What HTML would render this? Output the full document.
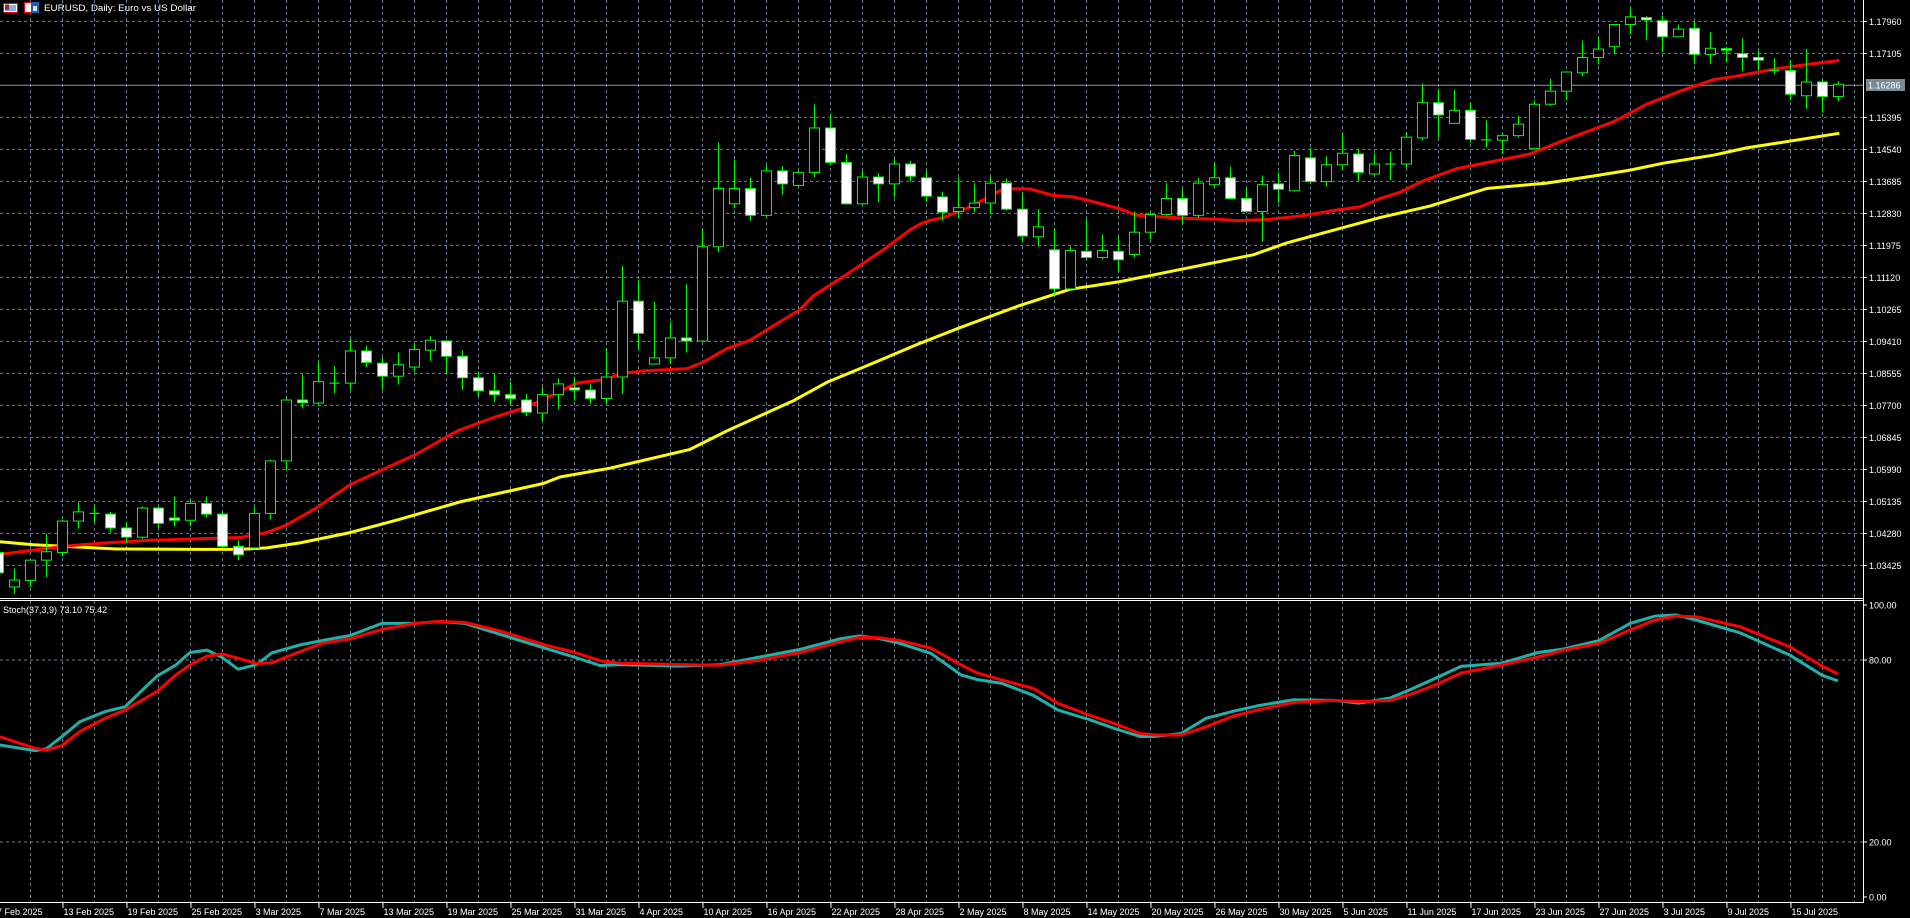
<!DOCTYPE html>
<html><head><meta charset="utf-8"><style>
html,body{margin:0;padding:0;background:#000;overflow:hidden}
svg{display:block}
text{font-family:"Liberation Sans",sans-serif;font-size:9px;fill:#fff}
</style></head><body>
<svg id="s" width="1910" height="918" viewBox="0 0 1910 918" xmlns="http://www.w3.org/2000/svg">
<rect width="1910" height="918" fill="#000"/>
<g id="grid"></g>
<line x1="0" y1="85.2" x2="1863" y2="85.2" stroke="#8a98a8" stroke-width="1"/>
<g id="ma"></g>
<g id="candles"></g>
<g id="stoch"></g>
<line x1="0" y1="598.5" x2="1863" y2="598.5" stroke="#fff" stroke-width="1"/>
<line x1="0" y1="600.5" x2="1863" y2="600.5" stroke="#fff" stroke-width="1"/>
<line x1="1863.5" y1="0" x2="1863.5" y2="903" stroke="#fff" stroke-width="1"/>
<line x1="0" y1="902.5" x2="1864" y2="902.5" stroke="#fff" stroke-width="1"/>
<g id="ticks" stroke="#fff" stroke-width="1"></g>
<rect x="3.5" y="3.5" width="14" height="9" fill="#fff" stroke="#e00" stroke-width="1"/>
<line x1="5" y1="6" x2="16" y2="6" stroke="#1a5fb4"/><line x1="5" y1="8" x2="16" y2="8" stroke="#1a5fb4"/><line x1="5" y1="10" x2="16" y2="10" stroke="#1a5fb4"/>
<line x1="5" y1="5" x2="9" y2="5" stroke="#e00"/><line x1="5" y1="7" x2="9" y2="7" stroke="#e00"/><line x1="5" y1="9" x2="9" y2="9" stroke="#e00"/>
<rect x="24.5" y="2.5" width="14" height="10" fill="#fff" stroke="#e00"/>
<rect x="31" y="2" width="8" height="11" fill="#1a5fb4"/>
<rect x="33" y="6" width="4" height="5" fill="#ddd"/>
<text x="44" y="11" textLength="152" lengthAdjust="spacingAndGlyphs">EURUSD, Daily:  Euro vs US Dollar</text>
<g>
<text x="1869" y="24.8">1.17960</text>
<text x="1869" y="56.8">1.17105</text>
<text x="1869" y="120.8">1.15395</text>
<text x="1869" y="152.8">1.14540</text>
<text x="1869" y="184.8">1.13685</text>
<text x="1869" y="216.8">1.12830</text>
<text x="1869" y="248.8">1.11975</text>
<text x="1869" y="280.8">1.11120</text>
<text x="1869" y="312.8">1.10265</text>
<text x="1869" y="344.8">1.09410</text>
<text x="1869" y="376.8">1.08555</text>
<text x="1869" y="408.8">1.07700</text>
<text x="1869" y="440.8">1.06845</text>
<text x="1869" y="472.8">1.05990</text>
<text x="1869" y="504.8">1.05135</text>
<text x="1869" y="536.8">1.04280</text>
<text x="1869" y="568.8">1.03425</text>
</g>
<rect x="1866" y="79" width="39" height="12" fill="#7a8898"/>
<text x="1868" y="88.5" fill="#fff">1.16286</text>
<text x="3" y="613">Stoch(37,3,9) 73.10 75.42</text>
<text x="1869" y="608.5">100.00</text>
<text x="1869" y="663.5">80.00</text>
<text x="1869" y="845.5">20.00</text>
<text x="1869" y="900.5">0.00</text>
<g>
<text x="-3" y="915">7 Feb 2025</text>
<text x="63.5" y="915">13 Feb 2025</text>
<text x="127.5" y="915">19 Feb 2025</text>
<text x="191.5" y="915">25 Feb 2025</text>
<text x="255.5" y="915">3 Mar 2025</text>
<text x="319.5" y="915">7 Mar 2025</text>
<text x="383.5" y="915">13 Mar 2025</text>
<text x="447.5" y="915">19 Mar 2025</text>
<text x="511.5" y="915">25 Mar 2025</text>
<text x="575.5" y="915">31 Mar 2025</text>
<text x="639.5" y="915">4 Apr 2025</text>
<text x="703.5" y="915">10 Apr 2025</text>
<text x="767.5" y="915">16 Apr 2025</text>
<text x="831.5" y="915">22 Apr 2025</text>
<text x="895.5" y="915">28 Apr 2025</text>
<text x="959.5" y="915">2 May 2025</text>
<text x="1023.5" y="915">8 May 2025</text>
<text x="1087.5" y="915">14 May 2025</text>
<text x="1151.5" y="915">20 May 2025</text>
<text x="1215.5" y="915">26 May 2025</text>
<text x="1279.5" y="915">30 May 2025</text>
<text x="1343.5" y="915">5 Jun 2025</text>
<text x="1407.5" y="915">11 Jun 2025</text>
<text x="1471.5" y="915">17 Jun 2025</text>
<text x="1535.5" y="915">23 Jun 2025</text>
<text x="1599.5" y="915">27 Jun 2025</text>
<text x="1663.5" y="915">3 Jul 2025</text>
<text x="1727.5" y="915">9 Jul 2025</text>
<text x="1791.5" y="915">15 Jul 2025</text>
</g>
</svg>
<script>
var NS="http://www.w3.org/2000/svg";
function el(p,t,a){var e=document.createElementNS(NS,t);for(var k in a)e.setAttribute(k,a[k]);p.appendChild(e);return e;}
var G=document.getElementById('grid');
var gc="#6f7f90";
for(var k=0;k<18;k++){if(k==2)continue;var y=21.4+32*k;el(G,'line',{x1:0,y1:y,x2:1863,y2:y,stroke:gc,'stroke-width':1,'stroke-dasharray':'3,3'});}
[660,842].forEach(function(y){el(G,'line',{x1:0,y1:y,x2:1863,y2:y,stroke:gc,'stroke-width':1,'stroke-dasharray':'3,3'});});
for(var k=0;k<58;k++){var x=30.5+32*k;el(G,'line',{x1:x,y1:0,x2:x,y2:598,stroke:gc,'stroke-width':1,'stroke-dasharray':'3,3'});el(G,'line',{x1:x,y1:601,x2:x,y2:902,stroke:gc,'stroke-width':1,'stroke-dasharray':'3,3'});}
var T=document.getElementById('ticks');
for(var k=0;k<29;k++){var x=-1.5+64*k+0.5;el(T,'line',{x1:x,y1:903,x2:x,y2:908});}
[21.4,53.4,117.4,149.4,181.4,213.4,245.4,277.4,309.4,341.4,373.4,405.4,437.4,469.4,501.4,533.4,565.4,605,660,842,897].forEach(function(y){el(T,'line',{x1:1863,y1:y,x2:1867,y2:y});});
function conv(segs){var pts=[];segs.forEach(function(s){var off=s[0];s[1].forEach(function(p){pts.push([p[0]/3+off,p[1]/2.61]);});});pts.sort(function(a,b){return a[0]-b[0];});return pts;}
var red=conv([[0,[[0,1447],[200,1425],[300,1418],[450,1410],[600,1406],[720,1403],[800,1390],[860,1370],[950,1325],[1050,1265],[1150,1225],[1250,1185],[1350,1135]]],
[460,[[0,1122],[100,1090],[200,1062],[280,1030],[350,1000],[440,990],[480,975],[550,968],[680,962],[730,945],[800,910],[870,888],[950,845],[1020,808],[1060,772],[1150,722],[1270,652],[1350,600]]],
[920,[[0,585],[30,575],[70,568],[150,540],[250,493],[330,493],[400,510],[460,514],[500,522],[600,545],[650,562],[800,570],[900,572],[950,576],[1050,572],[1150,563],[1250,548],[1320,540]]],
[1380,[[0,518],[60,502],[130,472],[230,440],[300,428],[450,402],[540,370],[700,318],[800,272],[900,238],[1000,208],[1060,200],[1200,178],[1300,166],[1378,158]]]]);
var yel=conv([[0,[[0,1414],[100,1422],[350,1433],[600,1434],[720,1434],[800,1430],[900,1417],[1050,1390],[1200,1355]]],
[460,[[0,1310],[250,1262],[300,1245],[450,1222],[690,1173],[800,1125],[1000,1046],[1100,998],[1200,962]]],
[920,[[0,896],[120,855],[300,797],[450,755],[600,735],[800,700],[1000,665],[1100,634]]],
[1380,[[0,568],[150,538],[320,492],[500,478],[650,458],[750,444],[850,426],[1000,405],[1100,386],[1378,348]]]]);
var M=document.getElementById('ma');
function pl(g,pts,c,w){el(g,'polyline',{points:pts.map(function(p){return p[0].toFixed(1)+','+p[1].toFixed(1);}).join(' '),fill:'none',stroke:c,'stroke-width':w,'stroke-linejoin':'round'});}
pl(M,yel,'#ffff00',3);
pl(M,red,'#ff0000',3);
var C=[[1430,1442,1495,1500,'w'],[1484,1514,1532,1550,'b'],[1462,1462,1515,1532,'b'],[1394,1440,1462,1506,'b'],[1356,1360,1442,1452,'b'],[1312,1336,1360,1380,'b'],[1318,1340,1340,1362,'b'],[1336,1342,1378,1390,'w'],[1362,1378,1402,1418,'w'],[1322,1326,1402,1406,'b'],
[1320,1326,1366,1378,'w'],[1296,1352,1358,1374,'w'],[1306,1314,1358,1374,'b'],[1296,1314,1342,1350,'w'],[1334,1342,1426,1430,'w'],[1410,1426,1448,1462,'w'],[1324,1340,1430,1432,'b'],[1200,1203,1340,1356,'b'],[1036,1044,1203,1228,'b'],[978,1044,1051,1066,'w'],
[944,996,1052,1060,'b'],[956,1000,1000,1026,'b'],[884,916,1000,1016,'b'],[902,916,946,958,'w'],[932,948,982,1016,'w'],[920,952,982,1004,'b'],[898,912,958,970,'b'],[878,888,914,942,'b'],[888,890,930,976,'w'],[914,930,986,1018,'w'],
[970,986,1020,1034,'w'],[976,1020,1030,1050,'w'],[996,1030,1040,1056,'w'],[1028,1044,1076,1086,'w'],[1010,1030,1078,1098,'b'],[988,1002,1030,1068,'b'],[984,1012,1018,1046,'w'],[1002,1018,1040,1054,'w'],[910,984,1040,1052,'b'],[694,786,984,1028,'b'],
[730,786,870,910,'w'],[788,934,950,952,'b'],[840,882,934,950,'b'],[742,882,890,920,'w'],[598,644,890,892,'b'],[372,492,644,658,'b'],[416,492,532,544,'b'],[464,492,562,576,'w'],[432,446,562,566,'b'],[434,446,480,508,'w'],
[446,450,484,488,'b'],[272,334,450,462,'b'],[298,334,424,430,'w'],[402,424,532,534,'w'],[446,462,532,534,'b'],[452,462,480,528,'w'],[414,428,480,514,'b'],[420,428,460,474,'w'],[446,464,512,528,'w'],[500,514,554,576,'w'],
[464,542,552,570,'b'],[478,530,542,554,'b'],[462,478,530,560,'b'],[466,478,546,550,'w'],[504,546,616,630,'w'],[546,592,618,644,'b'],[596,652,754,770,'w'],[644,654,754,756,'b'],[572,656,672,678,'w'],[612,654,672,678,'b'],
[618,656,678,708,'w'],[552,606,664,672,'b'],[554,560,606,624,'b'],[478,518,560,562,'b'],[494,518,562,586,'w'],[464,478,562,568,'b'],[424,464,482,486,'b'],[436,464,518,520,'w'],[492,518,552,556,'w'],[458,482,552,630,'b'],
[450,480,494,530,'w'],[394,406,498,500,'b'],[386,412,474,480,'w'],[408,430,474,486,'b'],[350,400,430,442,'b'],[388,402,450,472,'w'],[402,428,454,456,'b'],[396,428,428,470,'b'],[346,358,428,438,'b'],[218,268,360,366,'b'],
[232,268,300,358,'w'],[234,288,322,324,'b'],[268,288,364,372,'w'],[314,365,365,384,'b'],[346,354,366,402,'b'],[302,324,354,358,'b'],[262,272,388,390,'b'],[206,238,272,276,'b'],[186,188,238,262,'b'],[106,150,190,198,'b'],
[98,128,150,168,'b'],[64,64,122,142,'b'],[22,44,64,90,'b'],[42,46,52,104,'w'],[40,54,96,136,'w'],[64,76,96,98,'b'],[56,74,142,168,'w'],[84,126,142,166,'b'],[122,127,131,162,'w'],[100,140,150,186,'w'],
[132,150,157,184,'w'],[152,184,184,194,'b'],[158,184,246,262,'w'],[128,214,250,284,'b'],[206,214,252,294,'w'],[212,220,252,264,'b']];
var CG=document.getElementById('candles');
var gr='#00ff00';
C.forEach(function(c,i){var cx=Math.round(-1.7+16*i)+0.5;var f=2.61;
var hi=c[0]/f,tp=c[1]/f,bt=c[2]/f,lo=c[3]/f;
el(CG,'line',{x1:cx,y1:hi,x2:cx,y2:lo,stroke:gr,'stroke-width':1});
if(bt-tp<1.5){el(CG,'line',{x1:cx-5,y1:tp,x2:cx+5,y2:tp,stroke:gr,'stroke-width':1.2});}
else el(CG,'rect',{x:cx-5,y:tp,width:10,height:bt-tp,fill:c[4]=='w'?'#fff':'#000',stroke:gr,'stroke-width':1});
});
var S=[[0,52,54.7],[35,50.1,50.9],[46,50.7,50.3],[62,54.8,51.8],[80,59.7,56.5],[105,63,60.8],[125,64.6,63.5],[157,74.7,69.6],[176,78.4,75.1],[190,82.5,78.4],[207,83.3,81.3],[222,80.9,82],[238,77,80.6],[256,78.4,78.9],[272,82.4,79.1],[300,85,82.8],[322,86.4,85.5],[350,88.1,87],[382,92.1,90.1],[415,92.1,92.1],[440,92.7,92.7],[465,92.1,92.4],[500,88.5,89.6],[545,83.9,85],[575,80.9,82.5],[600,78.2,79.8],[620,78.5,79],[680,78,78.5],[720,78.5,78.3],[760,81,80],[800,83.5,82.5],[840,87,86],[860,88,87.5],[880,87,87.3],[900,85.5,86.4],[931,82.2,83.9],[961,75.1,78.4],[977,73.6,75.8],[1002,72.3,73.4],[1033,68.4,70.7],[1058,63.5,65.7],[1089,60.4,61.9],[1114,57.5,59.1],[1140,54.8,55.8],[1155,54.8,55.3],[1181,55.8,55.3],[1206,60.8,58],[1232,63,61.4],[1257,64.9,63.5],[1293,66.9,66],[1334,66.7,66.7],[1359,65.8,66.3],[1390,67.5,66.7],[1410,70.2,68.6],[1436,74.1,71.9],[1461,77.9,75.7],[1502,79,78.4],[1538,82.5,81],[1563,83.6,83.2],[1599,86.4,85.5],[1630,92.1,89.9],[1655,94.5,93.2],[1676,94.9,94.5],[1696,93.2,94.3],[1740,89,91],[1790,81.6,84.3],[1822,75,78],[1838,73.1,75.4]];
function vy(v){return 902.7-3.033*v;}
var SG=document.getElementById('stoch');
pl(SG,S.map(function(p){return [p[0],vy(p[1])];}),'#20b2aa',3);
pl(SG,S.map(function(p){return [p[0],vy(p[2])];}),'#ff0000',3);
</script>
</body></html>
